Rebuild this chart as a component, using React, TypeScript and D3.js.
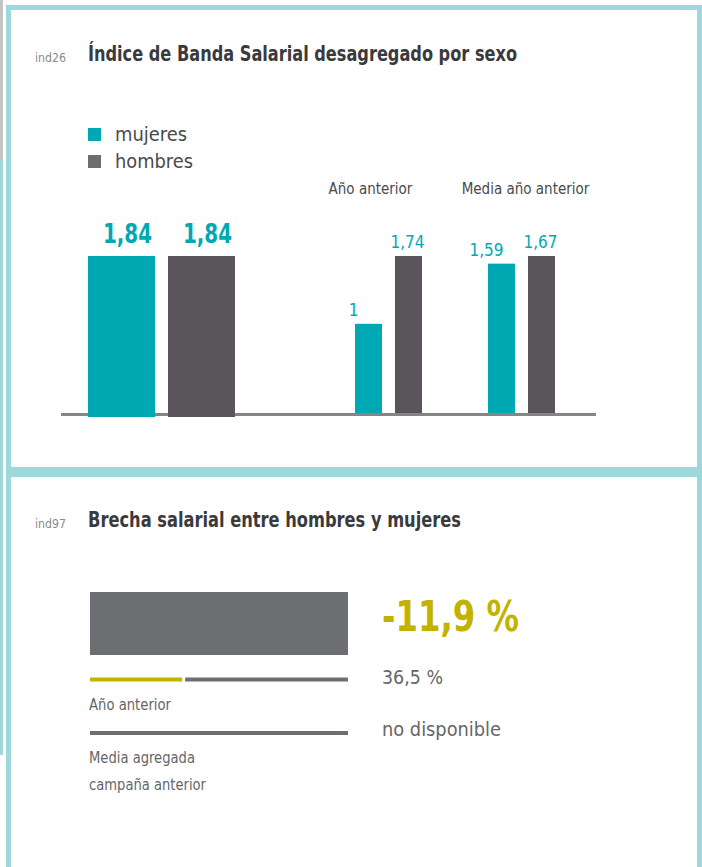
import { useEffect, useRef } from 'react'
import * as d3 from 'd3'

// ind26 data
const groups = ['actual', 'Año anterior', 'Media año anterior']
const mujeres = [1.84, 1, 1.59]
const hombres = [1.84, 1.74, 1.67]
const seriesNames = ['mujeres', 'hombres']

// ind97 data
const brechaActual = -11.9
const brechaAnterior = 36.5
const brechaMediaLabel = 'no disponible'
const brechaLabels = ['Año anterior', 'Media agregada', 'campaña anterior']

const TEAL = '#00a8b4'
const DARK = '#59555b'
const GREY = '#6d6e71'
const OLIVE = '#c4b200'
const BORDER = '#9dd9da'
const FONT = "'DejaVu Sans Condensed', 'Roboto', sans-serif"

const fmt = (v: number) => String(v).replace('.', ',')

export default function App() {
  const svgRef = useRef<SVGSVGElement>(null)
  const width = 702
  const height = 867

  useEffect(() => {
    if (!svgRef.current) return
    const svg = d3.select(svgRef.current)
    svg.selectAll('*').remove()
    svg.style('font-family', FONT)

    // squeeze a text to a given width (the original face is narrower)
    const fit = (sel: d3.Selection<SVGTextElement, unknown, null, undefined>, len: number) =>
      sel.attr('textLength', len).attr('lengthAdjust', 'spacingAndGlyphs')

    // frame / borders
    svg.append('rect').attr('x', 0).attr('y', 0).attr('width', 3).attr('height', 160).attr('fill', '#c4c4c4')
    svg.append('rect').attr('x', 0).attr('y', 160).attr('width', 3).attr('height', 595).attr('fill', BORDER)
    svg.append('rect').attr('x', 8.5).attr('y', 7.5).attr('width', 691).attr('height', 462)
      .attr('fill', 'white').attr('stroke', BORDER).attr('stroke-width', 5)
    svg.append('path').attr('d', 'M8.5,474.5 H699.5 M8.5,472 V867 M699.5,472 V867')
      .attr('fill', 'none').attr('stroke', BORDER).attr('stroke-width', 5)

    // ---------- panel 1 ----------
    fit(svg.append('text').attr('x', 35).attr('y', 62).attr('font-size', 12).attr('fill', '#8a8a8a').text('ind26'), 31)
    fit(svg.append('text').attr('x', 88).attr('y', 61).attr('font-size', 21).attr('font-weight', 700)
      .attr('fill', '#3a3a3c').text('Índice de Banda Salarial desagregado por sexo'), 429)

    // legend
    const legend = svg.append('g')
    seriesNames.forEach((s, i) => {
      legend.append('rect').attr('x', 88).attr('y', 128 + i * 27).attr('width', 13).attr('height', 13)
        .attr('fill', i === 0 ? TEAL : GREY)
      fit(legend.append('text').attr('x', 115).attr('y', 141 + i * 27).attr('font-size', 20)
        .attr('fill', '#4a4a4c').text(s), i === 0 ? 72 : 78)
    })

    const groupX = d3.scaleOrdinal<string, number>().domain(groups).range([161.5, 388.5, 521.5])
    const barW = [67, 27, 27]
    const gap = 13
    const baseY = 415.5
    const topY = 256

    const drawGroup = (grp: string, i: number, withLabels: boolean) => {
      const vals = [mujeres[i], hombres[i]]
      const big = i === 0
      const y = d3.scaleLinear().domain([0, d3.max(vals) as number]).range([big ? 417 : baseY, topY])
      const cx = groupX(grp)
      const w = barW[i]
      if (!big && withLabels) {
        g.append('text').attr('x', cx - (i === 1 ? 18 : -4)).attr('y', 194).attr('text-anchor', 'middle')
          .attr('font-size', 15).attr('fill', '#4a4a4c').text(grp)
      }
      vals.forEach((v, j) => {
        const x0 = j === 0 ? cx - gap / 2 - w : cx + gap / 2
        g.append('rect').attr('x', x0).attr('y', y(v)).attr('width', w)
          .attr('height', y(0) - y(v)).attr('fill', j === 0 ? TEAL : DARK)
        if (!withLabels) return
        const dx = big ? 6 : j === 0 ? -15 : -1
        const t = g.append('text').attr('x', x0 + w / 2 + dx).attr('y', y(v) - (big ? 13 : 8))
          .attr('text-anchor', 'middle').attr('font-size', big ? 27 : 17)
          .attr('font-weight', big ? 700 : 400).attr('fill', TEAL).text(fmt(v))
        if (big) fit(t, 49)
      })
    }

    const g = svg.append('g')
    groups.forEach((grp, i) => drawGroup(grp, i, true))

    // axis line
    g.append('line').attr('x1', 61).attr('x2', 596).attr('y1', 414.5).attr('y2', 414.5)
      .attr('stroke', '#858585').attr('stroke-width', 3)
    // the big pair sits over the axis line
    drawGroup(groups[0], 0, false)

    // ---------- panel 2 ----------
    fit(svg.append('text').attr('x', 35).attr('y', 528).attr('font-size', 12).attr('fill', '#8a8a8a').text('ind97'), 31)
    fit(svg.append('text').attr('x', 88).attr('y', 527).attr('font-size', 21).attr('font-weight', 700)
      .attr('fill', '#3a3a3c').text('Brecha salarial entre hombres y mujeres'), 373)

    const x = d3.scaleLinear().domain([0, 100]).range([90, 348])
    // main bar: full track, value part (negative -> none)
    svg.append('rect').attr('x', x(0)).attr('y', 592).attr('width', x(100) - x(0)).attr('height', 63)
      .attr('fill', GREY)
    svg.append('rect').attr('x', x(0)).attr('y', 592).attr('width', x(Math.max(0, brechaActual)) - x(0))
      .attr('height', 63).attr('fill', OLIVE)
    fit(svg.append('text').attr('x', 382).attr('y', 631).attr('font-size', 42).attr('font-weight', 700)
      .attr('fill', OLIVE).text(`${fmt(brechaActual)} %`), 137)

    // previous year line
    svg.append('line').attr('x1', x(0)).attr('x2', x(brechaAnterior) - 2).attr('y1', 679.5).attr('y2', 679.5)
      .attr('stroke', OLIVE).attr('stroke-width', 4)
    svg.append('line').attr('x1', x(brechaAnterior) + 1).attr('x2', x(100)).attr('y1', 679.5).attr('y2', 679.5)
      .attr('stroke', GREY).attr('stroke-width', 4)
    fit(svg.append('text').attr('x', 382).attr('y', 684).attr('font-size', 20).attr('fill', '#666669')
      .text(`${fmt(brechaAnterior)} %`), 61)
    fit(svg.append('text').attr('x', 89).attr('y', 710).attr('font-size', 15).attr('fill', '#666669').text(brechaLabels[0]), 82)

    // aggregated mean line
    svg.append('line').attr('x1', x(0)).attr('x2', x(100)).attr('y1', 733).attr('y2', 733)
      .attr('stroke', GREY).attr('stroke-width', 4)
    fit(svg.append('text').attr('x', 382).attr('y', 736).attr('font-size', 20).attr('fill', '#666669').text(brechaMediaLabel), 119)
    fit(svg.append('text').attr('x', 89).attr('y', 763).attr('font-size', 15).attr('fill', '#666669').text(brechaLabels[1]), 106)
    fit(svg.append('text').attr('x', 89).attr('y', 790).attr('font-size', 15).attr('fill', '#666669').text(brechaLabels[2]), 117)
  }, [])

  return (
    <svg
      ref={svgRef}
      width={width}
      height={height}
      style={{ position: 'absolute', left: 0, top: 0, background: 'white' }}
    />
  )
}
